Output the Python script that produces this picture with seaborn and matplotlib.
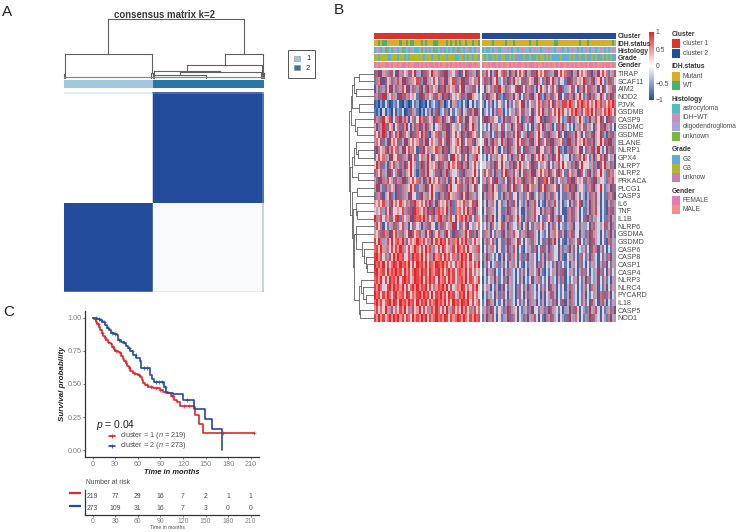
import numpy as np
import pandas as pd
import matplotlib
matplotlib.use("Agg")
import matplotlib.pyplot as plt
from matplotlib.colors import LinearSegmentedColormap, ListedColormap
from matplotlib.patches import Rectangle
import seaborn as sns

sns.set_style("white")
plt.rcParams['font.family'] = ['Liberation Sans', 'DejaVu Sans']
plt.rcParams['mathtext.fontset'] = 'custom'
plt.rcParams['mathtext.it'] = 'Liberation Sans:italic'
plt.rcParams['mathtext.rm'] = 'Liberation Sans'

W, H = 738, 532
fig = plt.figure(figsize=(W / 100, H / 100), dpi=100, facecolor='white')


def pax(x0, y0, x1, y1, **kw):
    return fig.add_axes([x0 / W, 1 - y1 / H, (x1 - x0) / W, (y1 - y0) / H], **kw)


BLUE = '#234D9C'
RED = '#E2262B'
TXT = '#4A4A4A'

# ------------------------------------------------------------ panel A data
A_TITLE = 'consensus matrix k=2'
A_ROW_SIZES = [4, 269, 216, 3]
A_COL_SIZES = [216, 3, 269, 4]
A_CELLS = [[0.12, 0.45, 0.85, 0.60],
           [0.00, 0.25, 1.00, 0.80],
           [1.00, 0.80, 0.03, 0.25],
           [0.80, 0.55, 0.10, 0.30]]
A_LABEL_SIZES = [219, 273]
A_LABEL_COLORS = ['#A0C8DC', '#2A76A6']
A_TREE = (1.0, (0.41, (0.07, 0, 3), (0.09, 215, 218)),
          (0.41, (0.22, (0.125, 221, (0.10, (0.05, 221, 349), 484)), 487),
           (0.08, 489, 491)))

# ------------------------------------------------------------ panel B data
GENES = ['TIRAP', 'SCAF11', 'AIM2', 'NOD2', 'PJVK', 'GSDMB', 'CASP9', 'GSDMC', 'GSDME',
         'ELANE', 'NLRP1', 'GPX4', 'NLRP7', 'NLRP2', 'PRKACA', 'PLCG1', 'CASP3', 'IL6',
         'TNF', 'IL1B', 'NLRP6', 'GSDMA', 'GSDMD', 'CASP6', 'CASP8', 'CASP1', 'CASP4',
         'NLRP3', 'NLRC4', 'PYCARD', 'IL18', 'CASP5', 'NOD1']
# each digit indexes one level of estimated z-score
Z_LEVELS = [-1, -0.88, -0.72, -0.52, -0.24, 0.24, 0.5, 0.7, 0.86, 1]
HEAT_C1 = [
    "8291637284 1937462859 3618274936 7281936472 1849273618",
    "2739184627 3861927364 8271936485 2739164827 3918264739",
    "1627384916 2738491627 3816293746 1829374628 4916372841",
    "7382916473 6192837465 2918374628 6392817465 3827196453",
    "1203142013 2410320142 3012041342 1730241632 3142051423",
    "2130413205 1324012836 2031426138 1342715243 7146283917",
    "8372946815 7293861472 5938274618 7392648175 8261947362",
    "6173928461 5728394162 7183926415 6382917463 5271849362",
    "7483926175 8392746182 7593821647 8263917485 3927186472",
    "3748261957 4826193574 6283915746 2847193568 4925738164",
    "8174629385 7261948375 1829473658 7392816475 3928174658",
    "2485736194 5827361948 2573694185 3672841957 4285163794",
    "5938261748 3627185946 2718394657 1826394758 2937164853",
    "2748361925 3817264953 1728395462 8173926453 2817364952",
    "6291738462 8371926485 7261839475 8372618495 7262839471",
    "3916283746 1827364958 2637184956 3728169457 2837164925",
    "2738164923 1827361945 2816374952 1738294637 2948173625",
    "6475836294 7586473829 6574839261 7564839275 6483758294",
    "4647384925 5648372819 7648392817 8674938276 7485938174",
    "9738476285 8927463918 7869384726 8937268495 7869384276",
    "3847152638 2748361527 4613728451 3827463915 2748153647",
    "6472837195 8372649185 7263948175 8362947182 7369482716",
    "8597368495 7869384756 9768473958 6978483769 5869374856",
    "7859637485 8697358469 7485968374 8597463859 7685946378",
    "8968473859 6978458397 8695847396 7859684738 6978594637",
    "9786958479 8697869485 9786958769 8796857486 7968574869",
    "8967859687 9785968479 8697859768 9685796847 8769585746",
    "7869584978 6958978469 8795869784 9678596847 7869587468",
    "8697458969 7869584796 9687958476 8796958467 6985748695",
    "9785869748 9678598476 8969785948 7968597846 8795968475",
    "7968578969 8597869784 9687958679 7869584978 6987958468",
    "6847596384 7586947385 6948573869 7485963857 5968473857",
    "8696857969 7968587496 8697958679 7869858679 8697586978",
]
HEAT_C2 = [
    "7385162947 8261739485 7163829475 8273619485 7281639475 6281739485 72638",
    "3827164935 2718394652 8274619352 7184936254 2918374659 2738164952 38274",
    "5164738294 6273548192 4837261594 6253847192 3648251739 4827361592 46382",
    "2718364923 1827394615 2738164923 1738264915 2837164952 3817264935 27183",
    "3152614253 2516247359 1625374862 7384926738 8697358697 6847596837 58697",
    "1352416273 1425362748 2635174859 3627485968 4758697385 7869483758 69748",
    "2918374526 1728364951 2738164592 1827364952 3817264953 2716384925 18273",
    "3425163748 2536174829 3425163849 2637142839 3524163748 2635174829 36251",
    "2736142839 1627384925 3718264953 2817364925 1827394615 2738164923 17283",
    "4816293749 3718264958 2738164927 4829173658 2917384659 3827164958 29173",
    "1728394615 2718364925 1827361945 2738164923 1728364915 2738169425 17283",
    "3415263748 4526173849 2536174859 3627184953 4516273849 3526174839 25361",
    "4536271849 5362718495 3647182536 4715263849 5362718495 4536271849 36271",
    "3847261738 5927384615 8273916485 7392648175 2847361925 3816274953 28374",
    "3627481937 2518394762 9273846182 7948162537 3829174652 8372916453 27384",
    "2817394627 3618492735 8294736185 9273648152 7392816453 2738164952 36182",
    "1627384526 1738245163 2748135263 1738264152 2738164253 1627384152 27381",
    "2516374152 3617284153 2617385142 1627384251 3516274813 2617384152 16273",
    "1527364152 2718364251 1627384516 2738164251 1738264152 2617385142 17283",
    "2617394152 1738264952 1627384152 2748163925 1738264152 8172635142 27163",
    "3526174358 2617345261 4715263748 3516274153 2637145263 3517264358 26173",
    "2736152638 1627384526 3718264153 2516374826 1738245163 2718364152 37162",
    "1627483152 2718364925 1537264152 2718394152 1627348152 3718264152 17263",
    "1526374152 2617384152 1436271528 2617345162 3716251436 2518371625 14263",
    "2617342516 1528374162 2716351426 1627354162 1536241725 2617341526 27163",
    "1625143726 2516374152 1426351726 1534261725 2416351724 1526341627 15263",
    "2516371425 1627341526 2516347162 1425361728 1536241627 2514361725 16253",
    "1425361625 2716341526 1425163724 2516341627 1425361526 1724361526 24163",
    "2536142617 1526341725 2617341526 2518361425 1627351426 2517361426 15263",
    "1426351627 2516341725 1627352416 1538261425 2617341526 1425361728 26153",
    "2518361425 1627341526 2517361426 1436271528 1627341526 2518341726 14263",
    "3627184253 2718364152 3627145263 2718364251 3617284153 2716384152 36271",
    "2617384152 3618274153 2716384152 1738264153 2816374152 3718264153 27163",
]
TRACK_NAMES = ['Cluster', 'IDH.status', 'Histology', 'Grade', 'Gender']
TRACK_C1 = ["1" * 50,
            "MMWMWWMMMM MMWMMWMWWM MMWMWMMMWW MMMMWMWMWM WMMWMMWMMW",
            "aoiaouaoai oaouaoaioa aouoaiaoua oaiaoaoaiu aoaoiaoaoi",
            "3323332233 3233232333 3332333233 2333233322 3323232332",
            "FMFMMFFMFM MFMFFMFMMF FMFMFMFFMF MFMMFMFMFM FMFMFFMFMM"]
TRACK_C2 = ["2" * 65,
            "MMMMMWMMMM MWMMMWMMMM MMMWMMWMMM MMMMMWWMMM MMMMMMMWMM MWMMMMMMMM MMMWM",
            "aoaaoaoiao ooioaooaoi oooaoiooao ooiooaooia oaoiooaoao ioaooaoioa oaoio",
            "3232232323 3223232u22 3223223233 2323222232 2232322322 3223232232 32322",
            "FMMFMFFMFM FMMFMFMFFM MFMFFMFMMF MFMFMMFMFF MFMFMFMMFM FMFFMFMMFM FFMFM"]
LEGEND_B = [
    ('Cluster', {'1': ('cluster 1', '#E0312F'), '2': ('cluster 2', '#234D9C')}),
    ('IDH.status', {'M': ('Mutant', '#D6AE2B'), 'W': ('WT', '#47B36F')}),
    ('Histology', {'a': ('astrocytoma', '#53BCBE'), 'i': ('IDH\u2212WT', '#CB8FBD'),
                   'o': ('oligodendroglioma', '#AAA4D3'), 'u': ('unknown', '#73B944')}),
    ('Grade', {'2': ('G2', '#5BAEDF'), '3': ('G3', '#AEB92D'), 'u': ('unknow', '#C77FB8')}),
    ('Gender', {'F': ('FEMALE', '#E47CB0'), 'M': ('MALE', '#EE8F8A')}),
]
N = lambda h, a, b: (h, a, b)
G1 = N(60, N(44, 0, 1), N(52, 2, 3))
G2 = N(68, N(66, G1, N(44, 4, 5)), N(56, 6, N(50, 7, 8)))
G3 = N(66, N(60, N(54, 9, N(46, 10, 11)), 12), N(47, 13, 14))
G4 = N(52, 17, N(50, 18, 19))
G5 = N(54, 20, N(52, 21, N(37, 22, N(29, 23, N(24, 24, N(20, 25, 26))))))
G6 = N(43, N(39, 27, N(32, 28, N(24, 29, 30))), N(42, 31, 32))
B_TREE = N(74, G2, N(70, G3, N(64, N(50, 15, 16), N(62, G4, N(58, G5, G6)))))

# ------------------------------------------------------------ panel C data
RED_T = [0, 2, 4, 6, 8, 10, 12, 14, 16, 18, 20, 22, 24, 26, 28, 30, 33, 36, 38, 40, 42, 44, 46, 48, 50,
         53, 56, 60, 63, 65, 67, 70, 73, 76, 80, 87, 90, 94, 100, 104, 108, 112, 116, 134, 136, 141, 146, 214]
RED_S = [1, .99, .97, .95, .93, .905, .885, .865, .845, .835, .82, .81, .80, .78, .76, .75, .74, .73, .71,
         .69, .67, .655, .635, .62, .60, .58, .575, .57, .55, .53, .505, .495, .48, .475, .47, .467, .455,
         .44, .43, .41, .38, .365, .335, .33, .267, .198, .133, .133]
BLUE_T = [0, 3, 6, 10, 13, 16, 19, 22, 25, 28, 32, 34, 38, 41, 44, 47, 50, 54, 58, 63, 64, 74, 76, 79, 82,
          95, 97.5, 107, 120, 135, 149, 159, 171.5, 172]
BLUE_S = [1, .995, .99, .98, .965, .945, .925, .905, .885, .875, .869, .83, .82, .812, .79, .77, .745, .72,
          .695, .67, .623, .62, .57, .54, .517, .48, .43, .425, .38, .311, .236, .161, 0, 0]
RED_CENSOR = [3, 7, 12, 17, 21, 27, 31, 37, 43, 49, 55, 62, 72, 78, 84, 90, 105, 121, 128, 173, 214]
BLUE_CENSOR = [4, 8, 11, 15, 20, 26, 30, 35, 42, 48, 52, 57, 68, 72, 84, 88, 92, 96, 125]
TICKS_T = [0, 30, 60, 90, 120, 150, 180, 210]
RISK_1 = [219, 77, 29, 16, 7, 2, 1, 1]
RISK_2 = [273, 109, 31, 16, 7, 3, 0, 0]
P_TEXT = '$p$ = 0.04'
LABEL_1 = 'cluster = 1 ($n$ = 219)'
LABEL_2 = 'cluster = 2 ($n$ = 273)'


# ------------------------------------------------------------ helpers
def clean(s):
    return "".join(s.split())


def tree_segments(t, flip_base=0.0):
    """Return (position, height, segments) for a nested (height, a, b) tree."""
    if not isinstance(t, tuple):
        return t, flip_base, []
    pa, ha, sa = tree_segments(t[1], flip_base)
    pb, hb, sb = tree_segments(t[2], flip_base)
    h = t[0]
    seg = [((pa, ha), (pa, h)), ((pa, h), (pb, h)), ((pb, h), (pb, hb))]
    return (pa + pb) / 2, h, sa + sb + seg


# ------------------------------------------------------------ overlay
ov = pax(0, 0, W, H)
ov.set_xlim(0, W)
ov.set_ylim(H, 0)
ov.axis('off')
ov.set_zorder(5)
ov.patch.set_alpha(0)
for s, x, y in [('A', 2, 12), ('B', 334, 9.5), ('C', 3, 312)]:
    ov.text(x, y, s, fontsize=11, color='#222222', va='center', ha='left')

# ------------------------------------------------------------ panel A
ax = pax(64, 92, 264, 292)
mat = np.repeat(np.repeat(np.array(A_CELLS), A_ROW_SIZES, axis=0), A_COL_SIZES, axis=1)
sns.heatmap(mat, ax=ax, cmap=LinearSegmentedColormap.from_list('c', ['#FFFFFF', BLUE]), vmin=0, vmax=1,
            cbar=False, xticklabels=False, yticklabels=False, rasterized=True)

ax = pax(64, 80, 264, 88)
labs = np.repeat([0, 1], A_LABEL_SIZES)[None, :]
sns.heatmap(labs, ax=ax, cmap=ListedColormap(A_LABEL_COLORS), vmin=0, vmax=1, cbar=False,
            xticklabels=False, yticklabels=False, rasterized=True)

ax = pax(64, 19, 264, 78)
ax.set_xlim(0, 492)
ax.set_ylim(0, 1)
ax.axis('off')
_, _, segs = tree_segments(A_TREE)
for (x0, y0), (x1, y1) in segs:
    ax.plot([x0, x1], [y0, y1], color='#606060', lw=0.8, solid_capstyle='projecting', clip_on=False)
ax.plot([0, 492], [0.01, 0.01], color='#8A8A8A', lw=0.9, clip_on=False)
ov.text(164, 15, A_TITLE, fontsize=6.9, fontweight='bold', color='#3A3A3A', ha='center', va='center')

ov.add_patch(Rectangle((287.5, 49.5), 27, 28, fc='white', ec='#555555', lw=0.7))
for lab, col, y in [('1', A_LABEL_COLORS[0], 58.5), ('2', A_LABEL_COLORS[1], 67.5)]:
    ov.add_patch(Rectangle((293.5, y - 2.5), 6, 5, fc=col, ec='#888888', lw=0.4))
    ov.text(306, y + 0.5, lab, fontsize=5.5, color='#222222', ha='left', va='center')

# ------------------------------------------------------------ panel B
cmap_b = LinearSegmentedColormap.from_list('b', [BLUE, '#FFFFFF', RED])
c1 = np.array([[Z_LEVELS[int(c)] for c in clean(r)] for r in HEAT_C1])
c2 = np.array([[Z_LEVELS[int(c)] for c in clean(r)] for r in HEAT_C2])
HX0, HX1, HX2, HX3 = 374, 480, 482, 616
HY0, HY1 = 69.7, 321.7

cb = pax(649.3, 32, 654, 100)
ax = pax(HX0, HY0, HX1, HY1)
sns.heatmap(c1, ax=ax, cmap=cmap_b, vmin=-1, vmax=1, cbar=False, xticklabels=False, yticklabels=False,
            rasterized=True)
ax = pax(HX2, HY0, HX3, HY1)
sns.heatmap(c2, ax=ax, cmap=cmap_b, vmin=-1, vmax=1, cbar_ax=cb, xticklabels=False, yticklabels=GENES,
            rasterized=True)
ax.yaxis.tick_right()
ax.tick_params(axis='y', length=0, pad=1.2, labelsize=5.1, labelcolor=TXT, labelrotation=0)

cb.set_yticks([-1, -0.5, 0, 0.5, 1])
cb.set_yticklabels(['\u22121', '\u22120.5', '0', '0.5', '1'])
cb.tick_params(axis='y', length=1.2, width=0.4, pad=1, labelsize=4.9, labelcolor=TXT, color='white', right=True,
               direction='in')
cb.yaxis.tick_right()

for i, name in enumerate(TRACK_NAMES):
    groups = LEGEND_B[i][1]
    keys = list(groups)
    cols = ListedColormap([groups[k][1] for k in keys])
    y0 = 32.7 + 7.2 * i
    for s, x0, x1, lab in [(TRACK_C1[i], HX0, HX1, False), (TRACK_C2[i], HX2, HX3, True)]:
        a = pax(x0, y0, x1, y0 + 6.3)
        codes = np.array([[keys.index(c) for c in clean(s)]])
        sns.heatmap(codes, ax=a, cmap=cols, vmin=-0.5, vmax=len(keys) - 0.5, cbar=False,
                    xticklabels=False, yticklabels=[name] if lab else False, rasterized=True)
        if lab:
            a.yaxis.tick_right()
            a.tick_params(axis='y', length=0, pad=1.2, labelrotation=0, labelsize=4.9, labelcolor='#333333')
            for t in a.get_yticklabels():
                t.set_fontweight('bold')

ax = pax(349, HY0, HX0, HY1)
ax.set_xlim(74, 0)
ax.set_ylim(33, 0)
ax.axis('off')
_, _, segs = tree_segments(B_TREE)
for (h0, p0), (h1, p1) in [((a[1], a[0] + 0.5), (b[1], b[0] + 0.5)) for a, b in segs]:
    ax.plot([h0, h1], [p0, p1], color='#5E5E5E', lw=0.6, clip_on=False)

y = 34.7
for title, groups in LEGEND_B:
    ov.text(671.7, y, title, fontsize=4.9, fontweight='bold', color='#333333', va='center')
    yy = y + 4.7
    for k, (lab, col) in groups.items():
        ov.add_patch(Rectangle((671.7, yy), 8.7, 9, fc=col, ec='none'))
        ov.text(682.7, yy + 4.5, lab, fontsize=4.8, color=TXT, va='center')
        yy += 9.3
    y = yy + 4.7 + 4.7 - 0.5

# ------------------------------------------------------------ panel C
ax = pax(85.3, 311, 258.6, 457)
km = pd.concat([pd.DataFrame({'t': RED_T, 's': RED_S, 'g': 'cluster 1'}),
                pd.DataFrame({'t': BLUE_T, 's': BLUE_S, 'g': 'cluster 2'})])
sns.lineplot(data=km, x='t', y='s', hue='g', palette={'cluster 1': RED, 'cluster 2': BLUE},
             estimator=None, drawstyle='steps-post', lw=1.2, ax=ax, legend=False)


def at(ts, tt, ss):
    return [ss[np.searchsorted(tt, v, side='right') - 1] for v in ts]


cens = pd.concat([pd.DataFrame({'t': RED_CENSOR, 's': at(RED_CENSOR, RED_T, RED_S), 'g': 'cluster 1'}),
                  pd.DataFrame({'t': BLUE_CENSOR, 's': at(BLUE_CENSOR, BLUE_T, BLUE_S), 'g': 'cluster 2'})])
sns.scatterplot(data=cens, x='t', y='s', hue='g', palette={'cluster 1': RED, 'cluster 2': BLUE}, marker='+',
                s=7, linewidth=0.5, ax=ax, legend=False)
ax.set_xlim(-9.8, 220.5)
ax.set_ylim(-0.05, 1.05)
ax.set_xticks(TICKS_T)
ax.set_yticks([0, .25, .5, .75, 1])
ax.set_yticklabels(['0.00', '0.25', '0.50', '0.75', '1.00'])
ax.set_xlabel('Time in months', fontsize=5.4, fontweight='bold', fontstyle='italic', color='#222222', labelpad=0.6)
ax.set_ylabel('Survival probability', fontsize=5.8, fontweight='bold', fontstyle='italic', color='#222222', labelpad=0.5)
ax.tick_params(axis='both', length=1.6, width=0.5, pad=1.3, labelsize=5.2, labelcolor='#808080', color='#444444', left=True, bottom=True)
sns.despine(ax=ax)
for sp in ('left', 'bottom'):
    ax.spines[sp].set_linewidth(0.9)
    ax.spines[sp].set_color('#333333')

ov.text(96, 424.5, P_TEXT, fontsize=7.4, color='#222222', va='center')
for lab, col, yy in [(LABEL_1, RED, 435.5), (LABEL_2, BLUE, 445.5)]:
    ov.plot([109, 115], [yy, yy], color=col, lw=1.2)
    ov.plot([112], [yy], marker='+', ms=3, mew=0.6, color=col)
    ov.text(120, yy, lab, fontsize=5.2, color=TXT, va='center')

tb = pax(85.3, 490, 258.6, 515)
tb.set_xlim(-9.8, 220.5)
tb.set_ylim(2, 0)
risk = pd.DataFrame({'t': TICKS_T * 2, 'n': RISK_1 + RISK_2, 'r': [0.55] * 8 + [1.45] * 8})
for _, row in risk.iterrows():
    tb.text(row['t'], row['r'], str(int(row['n'])), fontsize=4.9, color=TXT, ha='center', va='center')
tb.set_xticks(TICKS_T)
tb.set_yticks([])
tb.tick_params(axis='x', length=1.6, width=0.5, pad=0.6, labelsize=4.9, labelcolor='#808080', color='#444444', bottom=True)
sns.despine(ax=tb)
for sp in ('left', 'bottom'):
    tb.spines[sp].set_linewidth(0.9)
    tb.spines[sp].set_color('#333333')
ov.text(85.5, 482.7, 'Number at risk', fontsize=4.9, color=TXT, va='center')
ov.text(168, 527.5, 'Time in months', fontsize=3.7, color=TXT, ha='center', va='center')
ov.plot([69, 81], [493.3, 493.3], color=RED, lw=1.6, solid_capstyle='butt')
ov.plot([69, 81], [505.7, 505.7], color=BLUE, lw=1.6, solid_capstyle='butt')

fig.savefig('out.png', dpi=100)
